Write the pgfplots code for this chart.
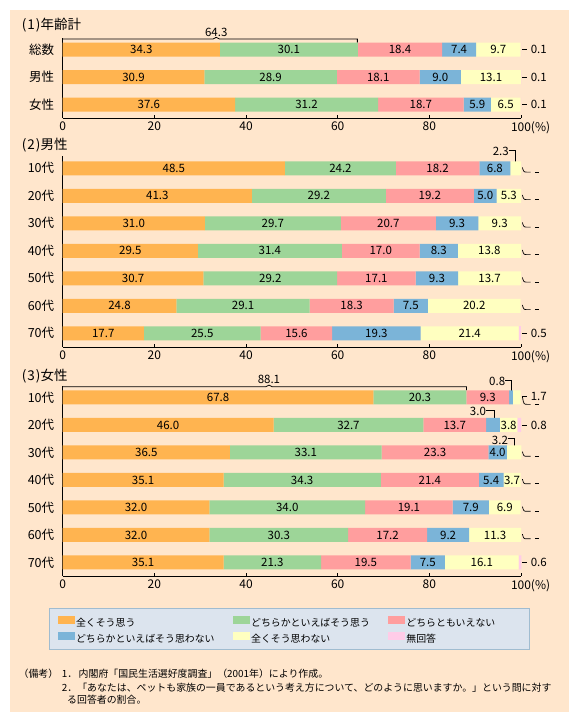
\documentclass[border=0pt]{standalone}
\usepackage{pgfplots}
\pgfplotsset{compat=1.18}
\usepackage{pgfplotstable}
\usepackage{fontspec}
\setmainfont{Noto Sans CJK JP}
\definecolor{bgc}{RGB}{255,230,204}
\definecolor{cA}{RGB}{255,180,80}
\definecolor{cB}{RGB}{157,213,152}
\definecolor{cC}{RGB}{255,158,158}
\definecolor{cD}{RGB}{123,180,216}
\definecolor{cE}{RGB}{255,255,192}
\definecolor{cF}{RGB}{255,204,232}
\definecolor{lgbg}{RGB}{220,228,238}
\definecolor{lgbd}{RGB}{160,188,208}
\newcommand\numf{\fontsize{11.5}{12}\selectfont}

\pgfplotstableread{
y a b c d e f
2 34.3 30.1 18.4 7.4 9.7 0.1
1 30.9 28.9 18.1 9.0 13.1 0.1
0 37.6 31.2 18.7 5.9 6.5 0.1
}\tA
\pgfplotstableread{
y a b c d e f
6 48.5 24.2 18.2 6.8 2.3 0
5 41.3 29.2 19.2 5.0 5.3 0
4 31.0 29.7 20.7 9.3 9.3 0
3 29.5 31.4 17.0 8.3 13.8 0
2 30.7 29.2 17.1 9.3 13.7 0
1 24.8 29.1 18.3 7.5 20.2 0
0 17.7 25.5 15.6 19.3 21.4 0.5
}\tB
\pgfplotstableread{
y a b c d e f
6 67.8 20.3 9.3 0.8 1.7 0
5 46.0 32.7 13.7 3.0 3.8 0.8
4 36.5 33.1 23.3 4.0 3.2 0
3 35.1 34.3 21.4 5.4 3.7 0
2 32.0 34.0 19.1 7.9 6.9 0
1 32.0 30.3 17.2 9.2 11.3 0
0 35.1 21.3 19.5 7.5 16.1 0.6
}\tC

\pgfplotsset{
  panel/.style={
    xbar stacked, bar width=14pt,
    scale only axis, width=458.3pt,
    xmin=0, xmax=100, enlargelimits=false, clip=false,
    axis lines*=left, axis line style={black, line width=0.9pt},
    xtick={0,20,40,60,80,100}, xticklabels={0,20,40,60,80,{100\rlap{(\%)}}},
    tick align=inside, major tick length=3pt,
    xtick style={black, line width=0.8pt},
    ytick style={draw=none},
    xticklabel style={font=\fontsize{12}{13}\selectfont},
    yticklabel style={font=\fontsize{12.5}{14}\selectfont, xshift=-5pt},
    /pgf/number format/assume math mode=true,
  },
  seg/.style 2 args={
    fill=#1, draw=none,
    visualization depends on={\thisrow{#2} \as \myval},
    nodes near coords={\ifdim\myval pt<3.5pt\relax\else\pgfmathprintnumber[fixed,fixed zerofill,precision=1]{\myval}\fi},
    every node near coord/.append style={anchor=center, font=\numf, text=black, inner sep=0pt},
    legend image code/.code={\fill[#1] (0pt,-0.3pt) rectangle (17pt,7.7pt);}
  },
}
\newcommand\dlab[2]{%
  \draw[line width=0.8pt] (axis cs:100.2,#1) -- (axis cs:101.3,#1);
  \node[anchor=west, inner sep=0pt, font=\numf] at (axis cs:102.1,#1) {#2};}
\newcommand\zhook[2]{%
  \draw[line width=0.7pt] (axis cs:100.3,{#1+0.03}) .. controls (axis cs:100.6,{#1+#2}) .. (axis cs:101.4,{#1+#2}) -- (axis cs:102.1,{#1+#2});
  \draw[line width=0.7pt] (axis cs:103.0,{#1+#2}) -- (axis cs:103.9,{#1+#2});}

\begin{document}
\begin{tikzpicture}
\fill[white] (0pt,0pt) rectangle (580pt,722pt);
\fill[bgc] (10pt,10pt) rectangle (569pt,712pt);
\filldraw[fill=lgbg, draw=lgbd, line width=0.8pt] (49.3pt,113.7pt) rectangle (529pt,72.7pt);

% titles
\node[anchor=base west, inner sep=0pt, font=\fontsize{13.5}{15}\selectfont] at (21.7pt,692pt) {(\kern1pt1\kern1pt)年齢計};
\node[anchor=base west, inner sep=0pt, font=\fontsize{13.5}{15}\selectfont] at (21.7pt,572pt) {(\kern1pt2\kern1pt)男性};
\node[anchor=base west, inner sep=0pt, font=\fontsize{13.5}{15}\selectfont] at (21.7pt,341pt) {(\kern1pt3\kern1pt)女性};

% notes
\begin{scope}[every node/.style={anchor=base west, inner sep=0pt, font=\fontsize{9.9}{11}\selectfont}]
\node at (18.5pt,44.2pt) {（備考）};
\node at (61.7pt,44.2pt) {1．};
\node at (78.5pt,44.2pt) {内閣府「国民生活選好度調査」（2001年）により作成。};
\node at (61.7pt,30.9pt) {2．「あなたは、ペットも家族の一員であるという考え方について、どのように思いますか。」という問に対す};
\node at (67pt,18.9pt) {る回答者の割合。};
\end{scope}

% panel 1
\begin{axis}[panel, at={(62.7pt,604pt)}, anchor=south west, height=80pt,
  ymin=-0.4836, ymax=2.4255, ytick={0,1,2}, yticklabels={女性,男性,総数}]
\addplot[seg={cA}{a}] table[x=a,y=y]{\tA};
\addplot[seg={cB}{b}] table[x=b,y=y]{\tA};
\addplot[seg={cC}{c}] table[x=c,y=y]{\tA};
\addplot[seg={cD}{d}] table[x=d,y=y]{\tA};
\addplot[seg={cE}{e}] table[x=e,y=y]{\tA};
\addplot[seg={cF}{f}] table[x=f,y=y]{\tA};
\draw[line width=0.8pt] (axis cs:0,2.39) -- (axis cs:32.8,2.39) -- (axis cs:33.5,2.45) -- (axis cs:34.2,2.39) -- (axis cs:64.3,2.39) -- (axis cs:64.3,2.26);
\node[font=\numf, inner sep=0pt] at (axis cs:33.5,2.64) {64.3};
\dlab{2}{0.1}\dlab{1}{0.1}\dlab{0}{0.1}
\end{axis}

% panel 2
\begin{axis}[panel, at={(62.7pt,375pt)}, anchor=south west, height=190.5pt,
  ymin=-0.498, ymax=6.429, ytick={0,...,6}, yticklabels={70代,60代,50代,40代,30代,20代,10代}]
\addplot[seg={cA}{a}] table[x=a,y=y]{\tB};
\addplot[seg={cB}{b}] table[x=b,y=y]{\tB};
\addplot[seg={cC}{c}] table[x=c,y=y]{\tB};
\addplot[seg={cD}{d}] table[x=d,y=y]{\tB};
\addplot[seg={cE}{e}] table[x=e,y=y]{\tB};
\addplot[seg={cF}{f}] table[x=f,y=y]{\tB};
\node[font=\numf, inner sep=0pt] at (axis cs:95.6,6.6) {2.3};
\draw[line width=0.8pt] (axis cs:97.3,6.64) -- (axis cs:98.7,6.64) -- (axis cs:98.7,6.2);
\zhook{6}{-0.14}\zhook{5}{-0.14}\zhook{4}{-0.14}\zhook{3}{-0.14}\zhook{2}{-0.14}\zhook{1}{-0.14}
\dlab{0}{0.5}
\end{axis}

% panel 3
\begin{axis}[panel, at={(62.7pt,146pt)}, anchor=south west, height=190pt,
  ymin=-0.491, ymax=6.418, ytick={0,...,6}, yticklabels={70代,60代,50代,40代,30代,20代,10代},
  legend columns=3, legend cell align=left,
  legend style={draw=none, fill=none, inner sep=0pt, row sep=1.3pt,
    font=\fontsize{9.9}{11}\selectfont,
    nodes={inner sep=1.5pt, text height=8pt, text depth=2pt},
    /tikz/every even column/.append style={column sep=16.5pt},
    at={(axis description cs:-0.01178,-0.2105)}, anchor=north west}]
\addplot[seg={cA}{a}] table[x=a,y=y]{\tC};
\addplot[seg={cB}{b}] table[x=b,y=y]{\tC};
\addplot[seg={cC}{c}] table[x=c,y=y]{\tC};
\addplot[seg={cD}{d}] table[x=d,y=y]{\tC};
\addplot[seg={cE}{e}] table[x=e,y=y]{\tC};
\addplot[seg={cF}{f}] table[x=f,y=y]{\tC};
\legend{全くそう思う, どちらかといえばそう思う, どちらともいえない, どちらかといえばそう思わない, 全くそう思わない, 無回答}
\draw[line width=0.8pt] (axis cs:0,6.39) -- (axis cs:44.3,6.39) -- (axis cs:45,6.45) -- (axis cs:45.7,6.39) -- (axis cs:88.1,6.39) -- (axis cs:88.1,6.26);
\node[font=\numf, inner sep=0pt] at (axis cs:45,6.64) {88.1};
\node[font=\numf, inner sep=0pt] at (axis cs:94.8,6.575) {0.8};
\draw[line width=0.8pt] (axis cs:96.6,6.62) -- (axis cs:97.8,6.62) -- (axis cs:97.8,6.2);
\dlab{6.03}{1.7}
\zhook{6}{-0.25}
\node[font=\numf, inner sep=0pt] at (axis cs:90.6,5.48) {3.0};
\draw[line width=0.8pt] (axis cs:92.4,5.52) -- (axis cs:94.1,5.52) -- (axis cs:94.1,5.15);
\dlab{5}{0.8}
\node[font=\numf, inner sep=0pt] at (axis cs:95.4,4.45) {3.2};
\draw[line width=0.8pt] (axis cs:97.1,4.5) -- (axis cs:98.5,4.5) -- (axis cs:98.5,4.05);
\zhook{4}{-0.14}\zhook{3}{-0.14}\zhook{2}{-0.14}\zhook{1}{-0.14}
\dlab{0}{0.6}
\end{axis}
\end{tikzpicture}
\end{document}
